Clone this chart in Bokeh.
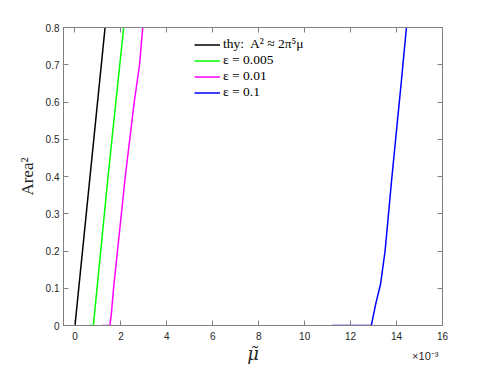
from bokeh.plotting import figure
from bokeh.models import (LinearAxis, FixedTicker, CustomJSTickFormatter, Legend,
                          LegendItem, Range1d)
from bokeh.embed import file_html
from bokeh.resources import INLINE

# ---- data (mu values in units of 1e-3) ----
thy_mu = [0.0, 1.31]
thy_area = [0.0, 0.8]
e005_mu = [0.6, 0.8, 0.96, 1.44, 2.12]
e005_area = [0.0, 0.0, 0.1, 0.4, 0.8]
e01_mu = [1.17, 1.52, 1.58, 1.68, 2.19, 2.58, 2.81, 2.95]
e01_area = [0.0, 0.0, 0.03, 0.1, 0.4, 0.6, 0.7, 0.8]
e1_mu = [11.2, 12.9, 13.0, 13.1, 13.3, 13.5, 13.65, 13.8, 14.04, 14.2, 14.43]
e1_area = [0.0, 0.0, 0.03, 0.06, 0.11, 0.2, 0.3, 0.4, 0.55, 0.65, 0.8]

series_labels = ["thy:  A\u00b2 \u2248 2\u03c0\u2075\u03bc", "\u03b5 = 0.005", "\u03b5 = 0.01", "\u03b5 = 0.1"]
series_colors = ["#000000", "#00ff00", "#ff00ff", "#0000ff"]
x_ticks = [0, 2, 4, 6, 8, 10, 12, 14, 16]
y_ticks = [0, 0.1, 0.2, 0.3, 0.4, 0.5, 0.6, 0.7, 0.8]
x_label = "\u03bc\u0303"
y_label = "Area\u00b2"
x_exponent = "\u00d710\u207b\u00b3"

AX = "#808080"
TXT = "#262626"
SANS = "Liberation Sans"
SERIF = "Liberation Serif"

p = figure(width=488, height=366, x_range=Range1d(-0.5, 16), y_range=Range1d(0, 0.8),
           output_backend="svg", toolbar_location=None,
           min_border_left=63, min_border_right=46, min_border_top=27, min_border_bottom=41)
p.grid.visible = False
p.outline_line_color = AX
p.background_fill_color = "white"

xfmt = CustomJSTickFormatter(code="return tick.toFixed(0);")
yfmt = CustomJSTickFormatter(code="return Math.abs(tick) < 1e-9 ? '0' : tick.toFixed(1);")
blank = CustomJSTickFormatter(code="return '';")

def style(ax, ticks, fmt, standoff):
    ax.ticker = FixedTicker(ticks=ticks)
    ax.formatter = fmt
    ax.axis_line_color = AX
    ax.major_tick_line_color = AX
    ax.major_tick_in = 5
    ax.major_tick_out = 0
    ax.minor_tick_line_color = None
    ax.major_label_text_font = SANS
    ax.major_label_text_font_size = "10px"
    ax.major_label_text_color = TXT
    ax.major_label_standoff = standoff

xax = p.xaxis[0]
style(xax, x_ticks, xfmt, 6)
xax.axis_label = x_label
xax.axis_label_text_font = "DejaVu Serif"
xax.axis_label_text_font_style = "italic"
xax.axis_label_text_font_size = "18px"
xax.axis_label_text_color = TXT
xax.axis_label_standoff = 0

yax = p.yaxis[0]
style(yax, y_ticks, yfmt, 4)
yax.axis_label = y_label
yax.axis_label_text_font = SERIF
yax.axis_label_text_font_size = "17px"
yax.axis_label_text_font_style = "normal"
yax.axis_label_text_color = TXT
yax.axis_label_standoff = 6

top = LinearAxis()
style(top, x_ticks, blank, 0)
top.major_label_text_font_size = "0px"
p.add_layout(top, "above")
right = LinearAxis()
style(right, y_ticks, blank, 0)
right.major_label_text_font_size = "0px"
p.add_layout(right, "right")

# exponent note under the right end of the x axis
expo = LinearAxis(ticker=FixedTicker(ticks=[15.25]),
                  formatter=CustomJSTickFormatter(code="return '%s';" % x_exponent))
expo.axis_line_color = None
expo.major_tick_line_color = None
expo.minor_tick_line_color = None
expo.major_label_text_font = SANS
expo.major_label_text_font_size = "11px"
expo.major_label_text_color = TXT
expo.major_label_standoff = -23
p.add_layout(expo, "below")

renderers = []
for xs, ys, c in [(thy_mu, thy_area, series_colors[0]), (e005_mu, e005_area, series_colors[1]),
                  (e01_mu, e01_area, series_colors[2]), (e1_mu, e1_area, series_colors[3])]:
    renderers.append(p.line(xs, ys, line_color=c, line_width=1.5))

legend = Legend(items=[LegendItem(label=l, renderers=[r]) for l, r in zip(series_labels, renderers)],
                location=(131, 225), padding=0, margin=0, border_line_color=None,
                background_fill_alpha=0, glyph_width=26, glyph_height=15, label_height=15,
                spacing=0, label_standoff=3, label_text_font=SERIF, label_text_font_size="13.5px",
                label_text_color="#000000")
p.add_layout(legend)

open("out.html", "w").write(file_html(p, INLINE))
